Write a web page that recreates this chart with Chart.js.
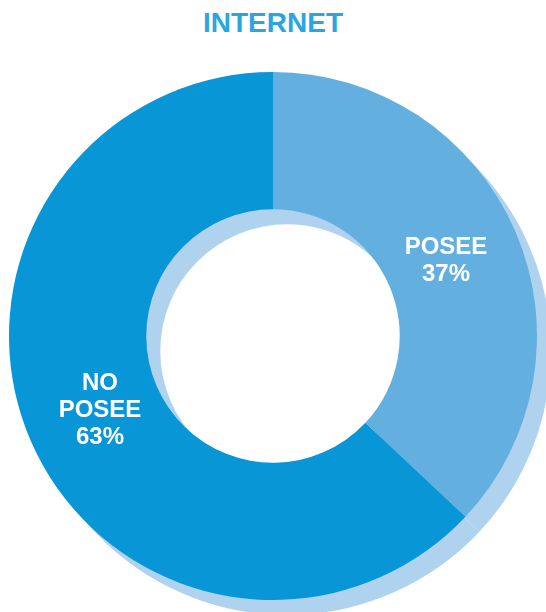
<!DOCTYPE html>
<html>
<head>
<meta charset="utf-8">
<script src="https://cdn.jsdelivr.net/npm/chart.js@4"></script>
<style>
  body { margin: 0; width: 546px; height: 612px; overflow: hidden; background: #fff; position: relative; }
  #title { position: absolute; left: 0; top: 7px; width: 546px; text-align: center;
           font: bold 28px "Liberation Sans", Arial, sans-serif; color: #29a6df; }
  .box { position: absolute; width: 528px; height: 528px; }
  #shadowBox { left: 23px; top: 87px; }
  #mainBox { left: 9px; top: 72px; }
</style>
</head>
<body>
<div id="title">INTERNET</div>
<div class="box" id="shadowBox"><canvas id="shadowChart"></canvas></div>
<div class="box" id="mainBox"><canvas id="mainChart"></canvas></div>
<script>
const categories = ['POSEE', 'NO POSEE'];
const values = [37, 63];
const colors = ['#63afe0', '#0896d6'];
const shadowColor = '#afd3ef';

const common = {
    responsive: true,
    maintainAspectRatio: false,
    animation: false,
    events: [],
    cutout: '48%',
    layout: { padding: 0 },
    plugins: { legend: { display: false }, tooltip: { enabled: false } }
};

// light copy of the ring, offset down/right behind the main one
new Chart(document.getElementById('shadowChart'), {
    type: 'doughnut',
    data: {
        labels: categories,
        datasets: [{
            data: values,
            backgroundColor: shadowColor,
            borderWidth: 0,
            hoverOffset: 0
        }]
    },
    options: common
});

const sliceText = {
    id: 'sliceText',
    afterDatasetsDraw(chart) {
        const ctx = chart.ctx;
        const meta = chart.getDatasetMeta(0);
        ctx.save();
        ctx.fillStyle = '#fff';
        ctx.font = 'bold 24px "Liberation Sans", Arial, sans-serif';
        ctx.textAlign = 'center';
        ctx.textBaseline = 'middle';
        meta.data.forEach((arc, i) => {
            const a = arc.getProps(['x', 'y', 'startAngle', 'endAngle', 'innerRadius', 'outerRadius']);
            const mid = (a.startAngle + a.endAngle) / 2;
            const r = (a.innerRadius + a.outerRadius) / 2 * 0.965;
            const px = a.x + Math.cos(mid) * r;
            const py = a.y + Math.sin(mid) * r;
            const lines = categories[i].split(' ').concat([values[i] + '%']);
            const lh = 27;
            const y0 = py - (lines.length - 1) * lh / 2;
            lines.forEach((t, j) => ctx.fillText(t, px, y0 + j * lh));
        });
        ctx.restore();
    }
};

new Chart(document.getElementById('mainChart'), {
    type: 'doughnut',
    data: {
        labels: categories,
        datasets: [{
            data: values,
            backgroundColor: colors,
            borderWidth: 0,
            hoverOffset: 0
        }]
    },
    options: common,
    plugins: [sliceText]
});
</script>
</body>
</html>
